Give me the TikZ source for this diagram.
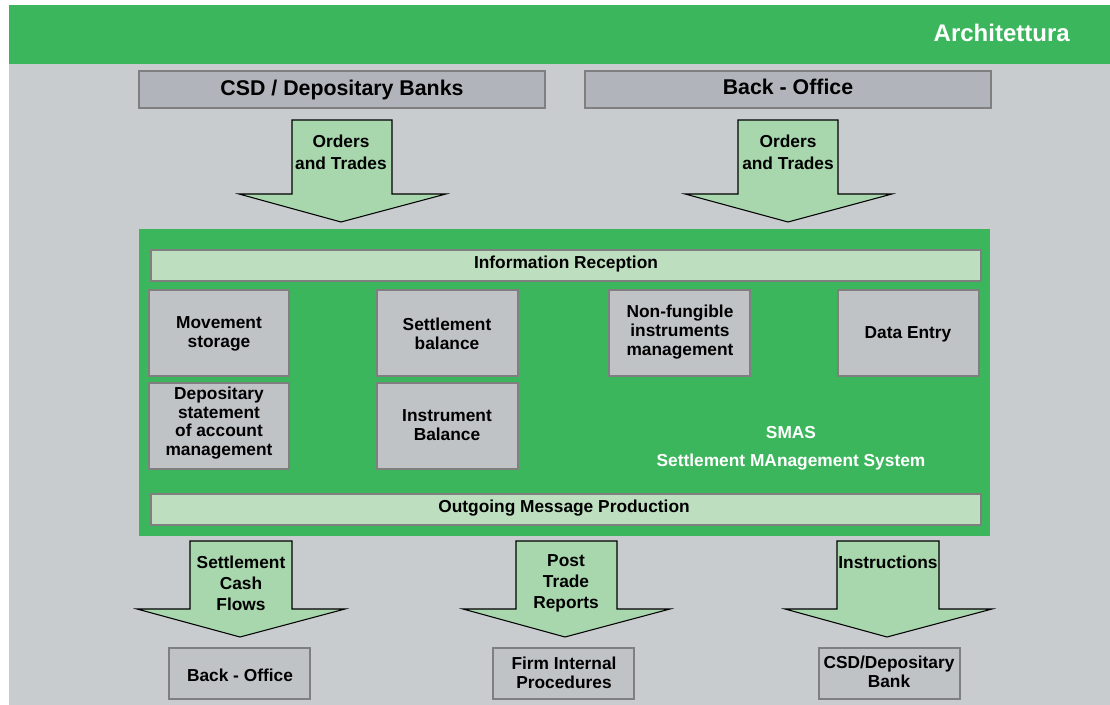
\documentclass[tikz,border=0pt]{standalone}
\usepackage{fontspec}
\setmainfont{Liberation Sans}
\usetikzlibrary{fit}
\definecolor{bggray}{HTML}{C8CCCF}
\definecolor{sgreen}{HTML}{3CB65C}
\definecolor{arrgreen}{HTML}{A8D7AE}
\definecolor{bargreen}{HTML}{BEDFBF}
\definecolor{topbox}{HTML}{B1B4BB}
\definecolor{inbox}{HTML}{C0C3C6}
\definecolor{edgegray}{HTML}{7F7F7F}
\begin{document}
\begin{tikzpicture}[x=0.75pt,y=-0.75pt,
  font=\fontsize{13}{14.1}\selectfont\bfseries,
  boxstyle/.style={draw=edgegray, line width=1pt, fill=inbox, inner sep=0pt, align=center},
  topstyle/.style={boxstyle, fill=topbox},
  toptext/.style={font=\fontsize{16}{19}\selectfont\bfseries},
  barstyle/.style={draw=edgegray, line width=1pt, fill=bargreen, inner sep=0pt},
  arrowshape/.style={draw=black, line width=0.8pt, fill=arrgreen, line join=miter},
  arrtext/.style={align=center, inner sep=0pt, font=\fontsize{13}{15.8}\selectfont\bfseries}]
\useasboundingbox (0,0) rectangle (1110,705);
\fill[white] (0,0) rectangle (1110,705);
\fill[bggray] (9,5) rectangle (1110,705);
\fill[sgreen] (9,5) rectangle (1110,64);
\node[anchor=east, text=white, inner sep=0pt, font=\fontsize{18}{21}\selectfont\bfseries] (title) at (1070,33) {Architettura};

% top boxes
\node[topstyle, fit={(139,71) (545,108)}] (csd) {};
\node[toptext] (csdt) at (342,90) {CSD / Depositary Banks};
\node[topstyle, fit={(585,71) (991,108)}] (bo) {};
\node[toptext] (bot) at (788,87) {Back - Office};

% top arrows
\draw[arrowshape] (292,120) -- (392,120) -- (392,194) -- (446,194) -- (341,222) -- (239,194) -- (292,194) -- cycle;
\node[arrtext, font=\fontsize{13}{16.5}\selectfont\bfseries] (a1) at (341,152) {Orders\\and Trades};
\draw[arrowshape] (738,120) -- (838,120) -- (838,194) -- (892,194) -- (788,222) -- (685,194) -- (738,194) -- cycle;
\node[arrtext, font=\fontsize{13}{16.5}\selectfont\bfseries] (a2) at (788,152) {Orders\\and Trades};

% SMAS
\fill[sgreen] (139,229) rectangle (990,536);
\node[barstyle, fit={(151,250) (981,281)}] (ir) {};
\node (irt) at (566,264) {Information Reception};

\node[boxstyle, fit={(149,290) (289,376)}] (ms) {};
\node[align=center] (mst) at (219,334) {Movement\\storage};
\node[boxstyle, fit={(377,290) (518,376)}] (sb) {};
\node[align=center] (sbt) at (447,334) {Settlement\\balance};
\node[boxstyle, fit={(609,290) (750,376)}] (nf) {};
\node[align=center] (nft) at (680,332) {Non-fungible\\instruments\\management};
\node[boxstyle, fit={(838,290) (979,376)}] (de) {};
\node[align=center] (det) at (908,334) {Data Entry};
\node[boxstyle, fit={(149,383) (289,469)}] (ds) {};
\node[align=center] (dst) at (219,423) {Depositary\\statement\\of account\\management};
\node[boxstyle, fit={(377,383) (518,469)}] (ib) {};
\node[align=center] (ibt) at (447,425) {Instrument\\Balance};

\node[text=white] (smas) at (791,433) {SMAS};
\node[text=white] (smasl) at (791,462) {Settlement MAnagement System};

\node[barstyle, fit={(151,494) (981,525)}] (om) {};
\node (omt) at (564,508) {Outgoing Message Production};

% bottom arrows
\draw[arrowshape] (190,541) -- (292,541) -- (292,609) -- (345,609) -- (240,637) -- (137,609) -- (190,609) -- cycle;
\node[arrtext] (b1) at (241,583) {Settlement\\Cash\\Flows};
\draw[arrowshape] (516,541) -- (617,541) -- (617,609) -- (670,609) -- (565,637) -- (463,609) -- (516,609) -- cycle;
\node[arrtext] (b2) at (566,583) {Post\\Trade\\Reports};
\draw[arrowshape] (837,541) -- (939,541) -- (939,609) -- (992,609) -- (887,637) -- (785,609) -- (837,609) -- cycle;
\node[arrtext] (b3) at (888,562) {Instructions};

% bottom boxes
\node[boxstyle, fit={(169,648) (310,699)}] (bbo) {};
\node (bbot) at (240,675) {Back - Office};
\node[boxstyle, fit={(493,648) (634,699)}] (fip) {};
\node[align=center] (fipt) at (564,673) {Firm Internal\\Procedures};
\node[boxstyle, fit={(819,648) (960,699)}] (cb) {};
\node[align=center] (cbt) at (889,672) {CSD/Depositary\\Bank};
\end{tikzpicture}
\end{document}
